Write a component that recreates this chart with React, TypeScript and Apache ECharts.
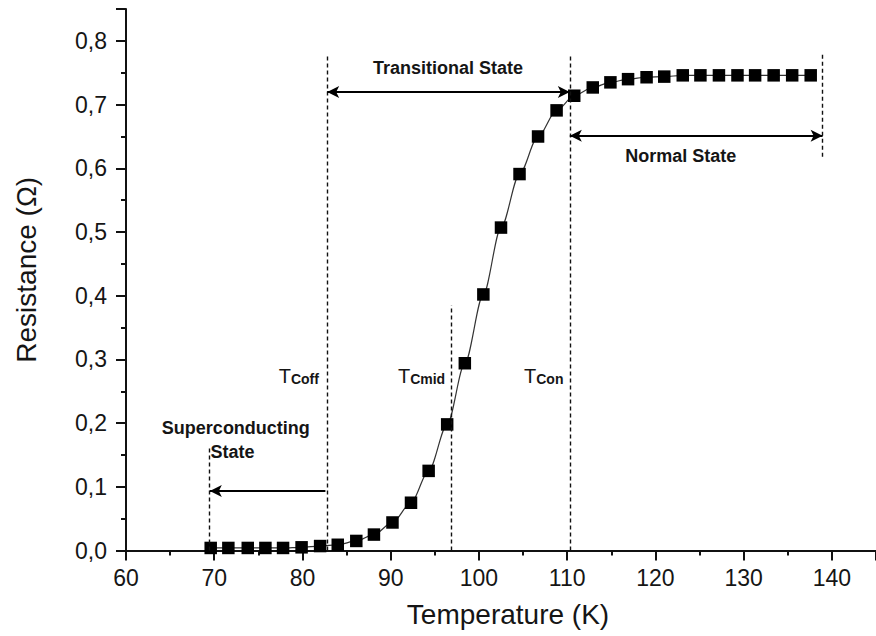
import React, { useEffect, useRef } from 'react';
import * as echarts from 'echarts';

const temperatureK = [
  69.6, 71.6, 73.8, 75.8, 77.8, 79.9, 82.0, 84.0, 86.1, 88.1, 90.2, 92.3,
  94.3, 96.4, 98.4, 100.5, 102.5, 104.6, 106.7, 108.8, 110.8, 112.9, 114.9,
  116.9, 119.0, 121.0, 123.1, 125.1, 127.2, 129.3, 131.3, 133.4, 135.5, 137.6,
];
const resistanceOhm = [
  0.004, 0.004, 0.004, 0.004, 0.004, 0.005, 0.007, 0.009, 0.015, 0.025, 0.044,
  0.075, 0.125, 0.198, 0.294, 0.402, 0.507, 0.591, 0.65, 0.691, 0.714, 0.727,
  0.735, 0.74, 0.743, 0.744, 0.746, 0.746, 0.746, 0.746, 0.746, 0.746, 0.746,
  0.746,
];

// Axis ranges
const xMin = 60;
const xMax = 145;
const xInterval = 10;
const yMin = 0;
const yMax = 0.85;
const yInterval = 0.1;

// Characteristic temperatures (K) for annotation lines
const T_SUPER = 69.4;
const T_COFF = 82.8;
const T_CMID = 96.85;
const T_CON = 110.3;
const T_END = 138.95;

// Annotation heights (Ohm)
const dashedTops = { super: 0.161, coff: 0.776, cmid: 0.385, con: 0.78, endTop: 0.78, endBottom: 0.618 };
const arrowLevels = { transitional: 0.72, normal: 0.651, superconducting: 0.0934 };

// Annotation texts with anchor points in data coordinates
const stateLabels = [
  { text: 'Transitional State', at: [96.5, 0.7576] },
  { text: 'Normal State', at: [122.87, 0.6194] },
  { text: 'Superconducting', at: [72.45, 0.1923] },
  { text: 'State', at: [72.06, 0.1551] },
];
const tcLabels = [
  { sub: 'Coff', at: [81.86, 0.272] },
  { sub: 'Cmid', at: [96.17, 0.273] },
  { sub: 'Con', at: [109.58, 0.2724] },
];

const FONT = '"Liberation Sans", Arial, Helvetica, sans-serif';
const TEXT_COLOR = '#151515';

export default function App() {
  const ref = useRef<HTMLDivElement>(null);

  useEffect(() => {
    if (!ref.current) return;
    const chart = echarts.init(ref.current, undefined, { renderer: 'svg' });

    const dashed = { color: '#111', width: 1.4, type: [4, 3] as any };
    const solid = { color: '#000', width: 2, type: 'solid' as any };

    const markLines: any[] = [
      [{ coord: [T_COFF, 0], lineStyle: dashed }, { coord: [T_COFF, dashedTops.coff] }],
      [{ coord: [T_SUPER, 0], lineStyle: dashed }, { coord: [T_SUPER, dashedTops.super] }],
      [{ coord: [T_CMID, 0], lineStyle: dashed }, { coord: [T_CMID, dashedTops.cmid] }],
      [{ coord: [T_CON, 0], lineStyle: dashed }, { coord: [T_CON, dashedTops.con] }],
      [{ coord: [T_END, dashedTops.endBottom], lineStyle: dashed }, { coord: [T_END, dashedTops.endTop] }],
      [
        { coord: [T_COFF, arrowLevels.transitional], symbol: 'arrow', lineStyle: solid },
        { coord: [T_CON, arrowLevels.transitional], symbol: 'arrow' },
      ],
      [
        { coord: [T_CON, arrowLevels.normal], symbol: 'arrow', lineStyle: solid },
        { coord: [T_END, arrowLevels.normal], symbol: 'arrow' },
      ],
      [
        { coord: [T_COFF - 0.2, arrowLevels.superconducting], symbol: 'none', lineStyle: solid },
        { coord: [T_SUPER + 0.1, arrowLevels.superconducting], symbol: 'arrow' },
      ],
    ];

    chart.setOption({
      animation: false,
      backgroundColor: '#fff',
      grid: { left: 126, top: 9.1, width: 754.4, height: 541.4, containLabel: false },
      xAxis: {
        type: 'value',
        min: xMin,
        max: xMax,
        interval: xInterval,
        name: 'Temperature (K)',
        nameLocation: 'middle',
        nameGap: 50,
        nameTextStyle: { fontSize: 28, color: TEXT_COLOR, fontFamily: FONT, padding: [0, 0, 0, 14] },
        axisLine: { lineStyle: { color: '#111', width: 2 } },
        axisTick: { inside: false, length: 10, lineStyle: { width: 2, color: '#111' } },
        minorTick: { show: true, splitNumber: 2, length: 5, lineStyle: { width: 2, color: '#111' } },
        splitLine: { show: false },
        axisLabel: { fontSize: 23, color: TEXT_COLOR, fontFamily: FONT, margin: 16, showMaxLabel: false },
      },
      yAxis: {
        type: 'value',
        min: yMin,
        max: yMax,
        interval: yInterval,
        name: 'Resistance (Ω)',
        nameLocation: 'middle',
        nameRotate: 90,
        nameGap: 86,
        nameTextStyle: { fontSize: 28, color: TEXT_COLOR, fontFamily: FONT, padding: [0, 0, 0, 20] },
        axisLine: { lineStyle: { color: '#111', width: 2 } },
        axisTick: { inside: false, length: 10, lineStyle: { width: 2, color: '#111' } },
        minorTick: { show: true, splitNumber: 2, length: 5, lineStyle: { width: 2, color: '#111' } },
        splitLine: { show: false },
        axisLabel: {
          fontSize: 23,
          color: TEXT_COLOR,
          fontFamily: FONT,
          margin: 19,
          showMaxLabel: false,
          formatter: (v: number) => v.toFixed(1).replace('.', ','),
        },
      },
      series: [
        {
          type: 'line',
          data: temperatureK.map((t, i) => [t, resistanceOhm[i]]),
          symbol: 'rect',
          symbolSize: 12.5,
          smooth: 0.3,
          smoothMonotone: 'x',
          clip: false,
          itemStyle: { color: '#000' },
          lineStyle: { color: '#333', width: 1.2 },
          markLine: {
            silent: true,
            animation: false,
            symbol: ['none', 'none'],
            symbolSize: [9, 12],
            label: { show: false },
            data: markLines,
          },
          z: 3,
        },
      ],
    });

    const px = (p: number[]) => chart.convertToPixel({ gridIndex: 0 }, p) as number[];

    const graphics: any[] = [];
    stateLabels.forEach((l) => {
      const [x, y] = px(l.at);
      graphics.push({
        type: 'text',
        x,
        y,
        silent: true,
        style: {
          text: l.text,
          fill: TEXT_COLOR,
          fontSize: 18,
          fontWeight: 'bold',
          fontFamily: FONT,
          align: 'center',
          verticalAlign: 'middle',
        },
      });
    });
    tcLabels.forEach((l) => {
      const [x, y] = px(l.at);
      graphics.push({
        type: 'text',
        x,
        y: y + 9,
        silent: true,
        style: {
          text: `{a|T}{b|${l.sub}}`,
          align: 'right',
          verticalAlign: 'bottom',
          rich: {
            a: { fontSize: 20, fill: TEXT_COLOR, fontFamily: FONT, verticalAlign: 'bottom', lineHeight: 20 },
            b: {
              fontSize: 14,
              fontWeight: 'bold',
              fill: TEXT_COLOR,
              fontFamily: FONT,
              verticalAlign: 'bottom',
              lineHeight: 17,
            },
          },
        },
      });
    });
    chart.setOption({ graphic: graphics });

    return () => chart.dispose();
  }, []);

  return (
    <div
      ref={ref}
      style={{ position: 'fixed', left: 0, top: 0, width: 876, height: 636, background: '#fff' }}
    />
  );
}
